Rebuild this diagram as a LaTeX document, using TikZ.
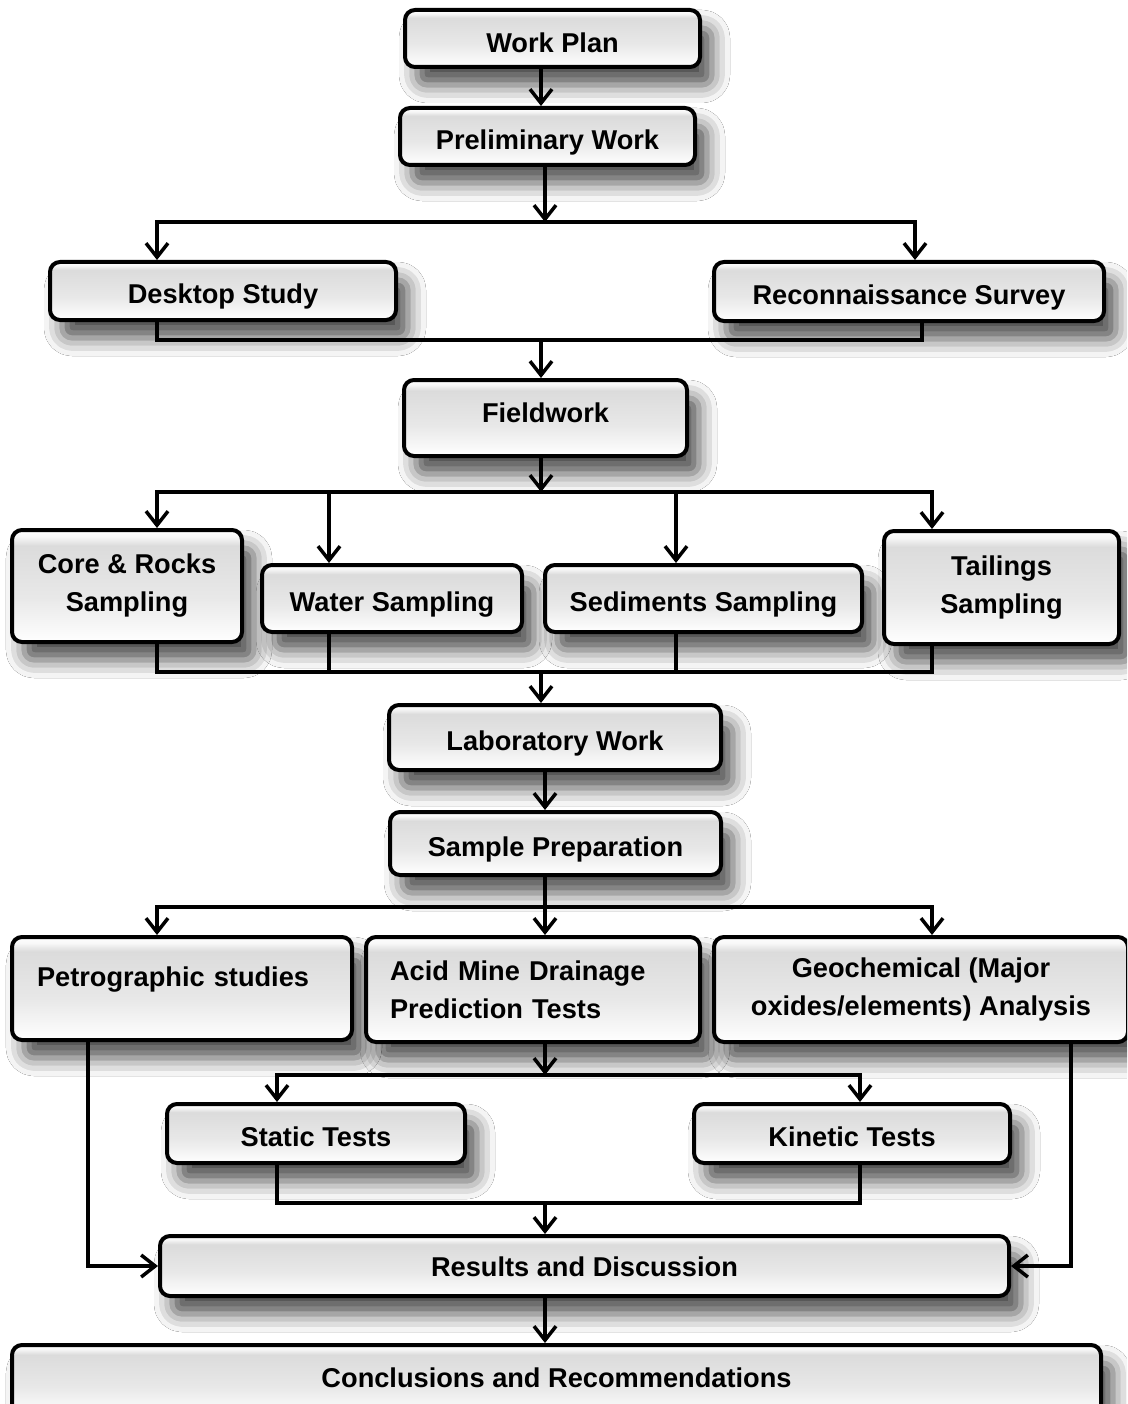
\documentclass[tikz,border=0pt]{standalone}
\usepackage{fontspec}
\setmainfont{Liberation Sans}
\usepackage{tikz}
\usetikzlibrary{arrows.meta, calc, positioning, shadows.blur}
\pgfdeclareverticalshading{bevel}{100bp}{color(0bp)=(white); color(25bp)=(white);
 color(45bp)=(black!9); color(68bp)=(black!14); color(72bp)=(black!3); color(75bp)=(white); color(100bp)=(white)}

\begin{document}
\begin{tikzpicture}[
 x=1pt, y=-1pt,
 box/.style={draw, line width=4pt, rounded corners=10pt, shading=bevel,
  blur shadow={shadow xshift=12pt, shadow yshift=-18pt, shadow blur radius=18pt, shadow opacity=70},
  font=\fontsize{27.2}{38}\selectfont\bfseries, align=center, inner sep=0pt},
 onebox/.style={box, text height=26pt, text depth=0pt},
 arrow/.style={-{Straight Barb[length=14pt, width=22pt]}, line width=3.5pt},
 line/.style={line width=3.5pt},
 ]
 \useasboundingbox (0,0) rectangle (1127,1404);
 \clip (0,0) rectangle (1127,1404);
 \fill[white] (0,0) rectangle (1127,1404);

 % planning
 \node[onebox, minimum width=295pt, minimum height=57pt, text height=28pt] (workplan) at (552.5,38.5) {Work Plan};
 \node[onebox, minimum width=295pt, minimum height=57pt] (prelim) at (547.5,136.5) {Preliminary Work};
 \node[onebox, minimum width=346pt, minimum height=58pt] (desktop) at (223,291) {Desktop Study};
 \node[onebox, minimum width=390pt, minimum height=59pt] (recon) at (909,291.5) {Reconnaissance Survey};
 \node[onebox, minimum width=283pt, minimum height=76pt, text height=20pt, text depth=12pt] (field) at (545.5,418) {Fieldwork};

 % sampling
 \node[box, minimum width=230pt, minimum height=112pt] (core) at (127,586) {Core \& Rocks\\Sampling};
 \node[onebox, minimum width=260pt, minimum height=67pt] (water) at (392,598.5) {Water Sampling};
 \node[onebox, minimum width=317pt, minimum height=67pt] (sed) at (703.5,598.5) {Sediments Sampling};
 \node[box, minimum width=235pt, minimum height=113pt] (tail) at (1001.5,587.5) {Tailings\\Sampling};

 % laboratory
 \node[onebox, minimum width=332pt, minimum height=65pt] (lab) at (555,737.5) {Laboratory Work};
 \node[onebox, minimum width=331pt, minimum height=63pt] (prep) at (555.5,843.5) {Sample Preparation};
 \node[onebox, minimum width=340pt, minimum height=103pt, text width=290pt, align=left,
  text height=20pt, text depth=25pt] (petro) at (182,988.5) {Petrographic studies};
 \node[box, minimum width=334pt, minimum height=105pt, text width=286pt, align=left] (amd) at (533,989.5)
  {Acid Mine Drainage\\Prediction Tests};
 \node[box, minimum width=414pt, minimum height=105pt] (geo) at (921,989.5)
  {Geochemical (Major\\oxides/elements) Analysis};
 \node[onebox, minimum width=298pt, minimum height=59pt] (static) at (316,1133.5) {Static Tests};
 \node[onebox, minimum width=316pt, minimum height=59pt] (kinetic) at (852,1133.5) {Kinetic Tests};

 % results
 \node[onebox, minimum width=849pt, minimum height=60pt, text height=20pt] (results) at (584.5,1266)
  {Results and Discussion};
 \node[onebox, minimum width=1089pt, minimum height=70pt, text height=20pt, text depth=5pt] (concl) at (556.5,1380)
  {Conclusions and Recommendations};

 \coordinate (split1) at (545,222);
 \coordinate (join1) at (541,340);
 \coordinate (split2) at (541,492);
 \coordinate (join2) at (541,672);
 \coordinate (split3) at (545,907);
 \coordinate (split4) at (545,1075);
 \coordinate (join4) at (545,1203);

 \draw[arrow] (workplan.south -| 541,0) -- (prelim.north -| 541,0);
 \draw[arrow] (prelim.south -| split1) -- (split1);
 \draw[arrow] (split1) -| (desktop.north -| 157,0);
 \draw[arrow] (split1) -| (recon.north -| 915,0);
 \draw[line] (desktop.south -| 157,0) |- (join1) -| (recon.south -| 922,0);
 \draw[arrow] (join1) -- (field.north -| join1);

 \draw[arrow] (field.south -| split2) -- (split2);
 \draw[arrow] (split2) -| (core.north -| 157,0);
 \draw[arrow] (split2) -| (water.north -| 329,0);
 \draw[arrow] (split2) -| (sed.north -| 676,0);
 \draw[arrow] (split2) -| (tail.north -| 932,0);
 \draw[line] (core.south -| 157,0) |- (join2);
 \draw[line] (water.south -| 329,0) |- (join2);
 \draw[line] (sed.south -| 676,0) |- (join2);
 \draw[line] (tail.south -| 932,0) |- (join2);
 \draw[arrow] (join2) -- (lab.north -| join2);

 \draw[arrow] (lab.south -| 545,0) -- (prep.north -| 545,0);
 \draw[arrow] (prep.south -| split3) -- (amd.north -| split3);
 \draw[arrow] (split3) -| (petro.north -| 157,0);
 \draw[arrow] (split3) -| (geo.north -| 932,0);
 \draw[arrow] (amd.south -| split4) -- (split4);
 \draw[arrow] (split4) -| (static.north -| 277,0);
 \draw[arrow] (split4) -| (kinetic.north -| 860,0);
 \draw[line] (static.south -| 277,0) |- (join4) -| (kinetic.south -| 860,0);
 \draw[arrow] (join4) -- (results.north -| join4);
 \draw[arrow] (petro.south -| 88,0) |- (results.west);
 \draw[arrow] (geo.south -| 1071,0) |- (results.east);
 \draw[arrow] (results.south -| 545,0) -- (concl.north -| 545,0);
\end{tikzpicture}
\end{document}
